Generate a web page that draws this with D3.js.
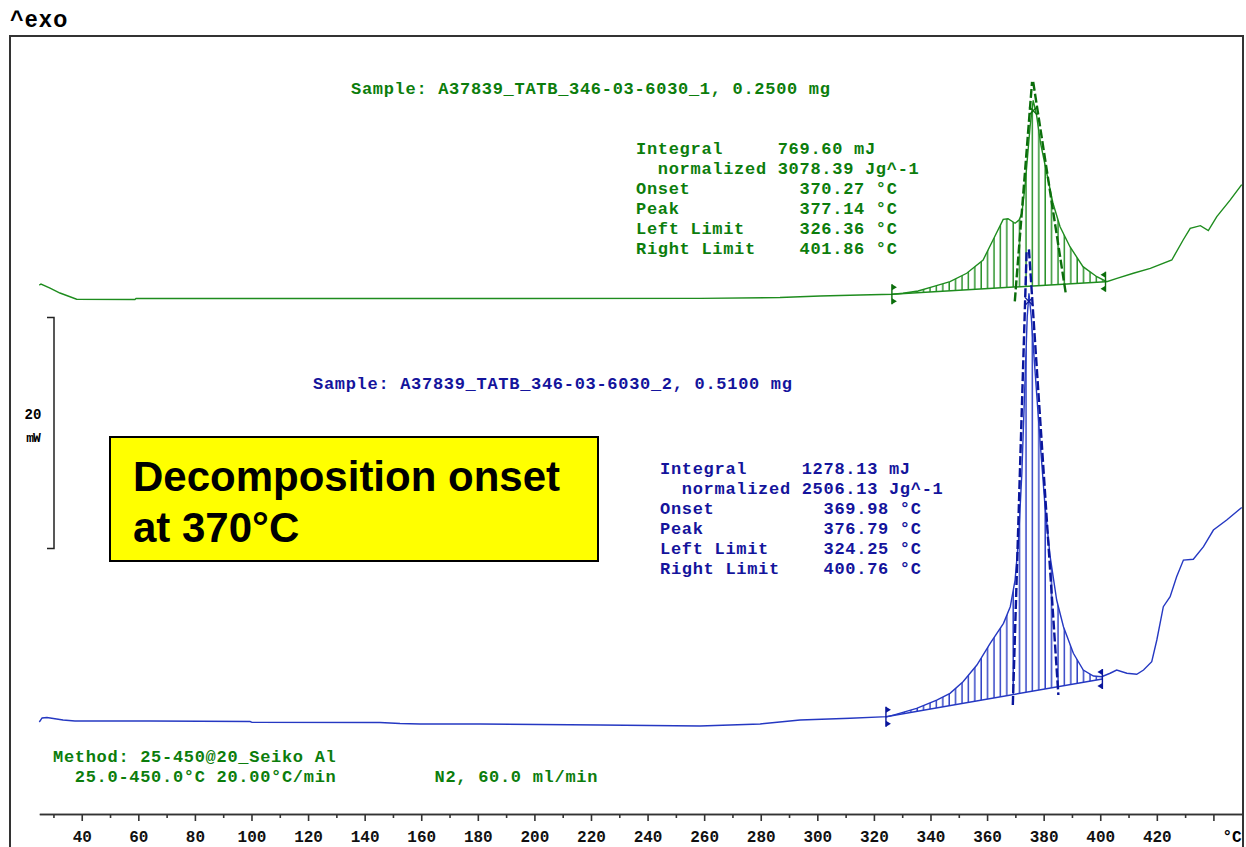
<!DOCTYPE html>
<html lang="en">
<head>
    <meta charset="UTF-8">
    <title>DSC TATB</title>
    <script src="https://d3js.org/d3.v7.min.js"></script>
    <style>
        body { margin: 0; background: #fff; }
        .mono { font-family: "Liberation Mono", "DejaVu Sans Mono", monospace; font-weight: bold; white-space: pre; }
    </style>
</head>
<body>
    <div class="canvas"></div>
    <script>
        const width = 1246
        const height = 847

        // temperature axis (°C)
        const tickLabels = [40, 60, 80, 100, 120, 140, 160, 180, 200, 220, 240, 260, 280, 300, 320, 340, 360, 380, 400, 420]
        const majorTicks = [...tickLabels, 440]
        const minorTicks = [30, 50, 70, 90, 110, 130, 150, 170, 190, 210, 230, 250, 270, 290, 310, 330, 350, 370, 390, 410, 430]

        // sample _1 (green) : [°C, mW shown]
        const greenCurve = [[25.0, 45.71], [25.6, 45.80], [28.8, 45.45], [32.3, 45.02], [38.2, 44.48], [58.8, 44.46], [59.2, 44.55],
            [117.2, 44.55], [187.9, 44.55], [258.5, 44.56], [286.8, 44.63], [301.0, 44.76], [315.1, 44.85], [326.7, 44.91],
            [330.3, 45.0], [335.6, 45.2], [340.9, 45.57], [346.9, 46.0], [352.8, 46.73], [358.6, 47.88], [362.1, 49.61],
            [365.7, 51.40], [367.4, 51.45], [369.9, 51.06], [371.3, 51.34], [372.3, 51.92], [373.4, 54.23], [375.2, 59.42],
            [376.3, 61.7], [377.5, 60.4], [378.9, 58.0], [381.1, 55.39], [383.3, 52.79], [385.8, 50.76], [389.3, 49.03],
            [393.9, 47.30], [398.8, 46.43], [402.3, 46.0], [405.9, 46.29], [411.7, 46.73], [417.7, 47.16], [425.3, 47.88],
            [429.3, 49.61], [431.8, 50.62], [435.4, 50.85], [438.2, 50.42], [441.2, 51.63], [445.9, 53.06], [450.0, 54.4]]
        const greenBase = [[326.36, 44.92], [401.86, 46.0]]
        const greenTangents = [[[369.8, 44.3], [375.9, 63.3]], [[376.3, 63.3], [387.9, 44.85]]]
        const greenPeak = [376.3, 60.8]

        // sample _2 (blue)
        const blueCurve = [[25.0, 7.88], [26.0, 8.23], [27.7, 8.27], [33.4, 8.05], [37.6, 7.97], [64.1, 7.97], [99.5, 7.92],
            [100.2, 7.85], [145.4, 7.84], [152.5, 7.75], [159.6, 7.71], [180.8, 7.71], [223.2, 7.62], [258.5, 7.53],
            [279.8, 7.71], [293.9, 8.05], [311.6, 8.20], [324.8, 8.34], [326.9, 8.48], [335.1, 9.06], [342.2, 9.78],
            [346.9, 10.36], [351.5, 11.37], [356.4, 12.81], [361.1, 14.69], [365.8, 16.42], [368.2, 17.86], [369.9, 20.17],
            [371.1, 23.64], [372.3, 29.44], [373.5, 38.10], [374.2, 43.0], [374.8, 45.0], [375.6, 43.0], [377.0, 38.10],
            [378.7, 32.29], [380.5, 26.52], [382.3, 22.19], [384.6, 18.44], [387.0, 16.13], [390.5, 13.83], [394.0, 12.38],
            [397.6, 11.86], [400.5, 11.80], [403.5, 12.10], [405.8, 12.38], [409.4, 12.10], [412.9, 12.01], [415.3, 12.38],
            [418.2, 13.10], [420.0, 14.98], [422.3, 17.86], [424.7, 18.73], [427.0, 20.46], [429.4, 21.90], [432.9, 21.97],
            [436.5, 23.06], [440.0, 24.50], [444.7, 25.37], [450.0, 26.45]]
        const blueBase = [[324.25, 8.34], [400.76, 11.6]]
        const blueTangents = [[[369.1, 9.35], [374.0, 48.8]], [[374.8, 48.8], [385.2, 10.22]]]
        const bluePeak = [374.8, 44.3]

        const scaleBar = [22.9, 42.9] // 20 mW

        const greenText = {
            title: 'Sample: A37839_TATB_346-03-6030_1, 0.2500 mg',
            table: ['Integral     769.60 mJ', '  normalized 3078.39 Jg^-1', 'Onset          370.27 °C',
                'Peak           377.14 °C', 'Left Limit     326.36 °C', 'Right Limit    401.86 °C']
        }
        const blueText = {
            title: 'Sample: A37839_TATB_346-03-6030_2, 0.5100 mg',
            table: ['Integral     1278.13 mJ', '  normalized 2506.13 Jg^-1', 'Onset          369.98 °C',
                'Peak           376.79 °C', 'Left Limit     324.25 °C', 'Right Limit    400.76 °C']
        }
        const methodLines = ['Method: 25-450@20_Seiko Al', '  25.0-450.0°C 20.00°C/min         N2, 60.0 ml/min']

        const green = '#1e8c1e', greenDark = '#0b6e0b', greenInk = '#0c7d0c'
        const blue = '#2538c2', blueDark = '#0a169c', blueInk = '#14149c'

        const svg = d3.select('.canvas')
                    .append('svg')
                    .attr('width', width)
                    .attr('height', height)

        const x = d3.scaleLinear().domain([25, 450]).range([39.3, 1241.7])
        const y = d3.scaleLinear().domain([0, 20]).range([813, 582])

        // frame
        svg.append('rect')
            .attr('x', 10).attr('y', 36)
            .attr('width', 1233).attr('height', 900)
            .attr('fill', 'none').attr('stroke', '#333').attr('stroke-width', 2)

        svg.append('text')
            .attr('x', 10).attr('y', 27)
            .attr('font-family', 'Liberation Sans, Arial, sans-serif')
            .attr('font-weight', 'bold')
            .attr('font-size', 23).attr('letter-spacing', 1.4)
            .text('^exo')

        // axis
        const axisG = svg.append('g').attr('transform', 'translate(0, 814)')
        axisG.call(d3.axisBottom(x).tickValues(minorTicks).tickSize(4).tickSizeOuter(0).tickFormat(''))
        const majorG = svg.append('g').attr('transform', 'translate(0, 814)')
        majorG.call(d3.axisBottom(x).tickValues(majorTicks).tickSize(7).tickSizeOuter(0)
            .tickFormat(d => tickLabels.includes(d) ? d : ''))
        svg.selectAll('.domain, .tick line').attr('stroke', '#333').attr('stroke-width', 1.6)
        majorG.selectAll('text')
            .attr('class', 'mono')
            .attr('font-size', 16).attr('fill', '#111')
            .attr('y', 17)
        svg.append('text')
            .attr('class', 'mono')
            .attr('x', 1232).attr('y', 842)
            .attr('text-anchor', 'middle').attr('font-size', 16)
            .text('°C')

        // scale bar
        const sb = svg.append('g').attr('stroke', '#222').attr('stroke-width', 1.5).attr('fill', 'none')
        sb.append('path')
            .attr('d', `M47,${y(scaleBar[1])}H54V${y(scaleBar[0])}H47`)
        svg.append('text').attr('class', 'mono').attr('x', 33).attr('y', 419)
            .attr('text-anchor', 'middle').attr('font-size', 14).text('20')
        svg.append('text').attr('class', 'mono').attr('x', 33).attr('y', 442)
            .attr('text-anchor', 'middle').attr('font-size', 13).attr('letter-spacing', -1).text('mW')

        const line = d3.line().x(d => x(d[0])).y(d => y(d[1]))
        const defs = svg.append('defs')

        function drawSample(curve, base, tangents, peak, col, dark, id) {
            const pat = defs.append('pattern')
                .attr('id', id)
                .attr('patternUnits', 'userSpaceOnUse')
                .attr('width', 6.4).attr('height', 20)
            pat.append('line')
                .attr('x1', 2).attr('x2', 2).attr('y1', 0).attr('y2', 20)
                .attr('stroke', col).attr('stroke-width', 1.4)

            // hatched integral area
            const inside = curve.filter(d => d[0] > base[0][0] && d[0] < base[1][0])
            svg.append('path')
                .attr('d', line([base[0], ...inside, base[1]]) + 'Z')
                .attr('fill', `url(#${id})`)
                .attr('stroke', 'none')

            svg.append('path')
                .attr('d', line(base))
                .attr('fill', 'none').attr('stroke', col).attr('stroke-width', 1.5)

            svg.append('path')
                .attr('d', line(curve))
                .attr('fill', 'none').attr('stroke', col).attr('stroke-width', 1.4)

            tangents.forEach(t => {
                svg.append('path')
                    .attr('d', line(t))
                    .attr('fill', 'none').attr('stroke', dark)
                    .attr('stroke-width', 2.4).attr('stroke-dasharray', '9,3')
            })

            // peak mark
            const px = x(peak[0]), py = y(peak[1])
            svg.append('path')
                .attr('d', `M${px - 4},${py - 4}L${px + 4},${py + 4}M${px + 4},${py - 4}L${px - 4},${py + 4}`)
                .attr('stroke', dark).attr('stroke-width', 1.3)

            // limit marks
            base.forEach((b, i) => {
                const bx = x(b[0]), by = y(b[1])
                const dir = i === 0 ? 1 : -1
                svg.append('path')
                    .attr('d', `M${bx},${by - 10}V${by + 10}`)
                    .attr('stroke', dark).attr('stroke-width', 1.4)
                svg.append('path')
                    .attr('d', `M${bx},${by - 10}l${dir * 5},3l${-dir * 5},3Z M${bx},${by + 10}l${dir * 5},-3l${-dir * 5},-3Z`)
                    .attr('fill', dark)
            })
        }

        drawSample(greenCurve, greenBase, greenTangents, greenPeak, green, greenDark, 'hatchG')
        drawSample(blueCurve, blueBase, blueTangents, bluePeak, blue, blueDark, 'hatchB')

        function textBlock(lines, x0, y0, step, col) {
            svg.append('g').selectAll('text')
                .data(lines)
                .enter()
                .append('text')
                .attr('class', 'mono')
                .attr('x', x0)
                .attr('y', (d, i) => y0 + i * step)
                .attr('font-size', 17)
                .attr('letter-spacing', 0.7)
                .attr('fill', col)
                .text(d => d)
        }

        textBlock([greenText.title], 351, 94, 0, greenInk)
        textBlock(greenText.table, 636, 154, 20, greenInk)
        textBlock([blueText.title], 313, 389, 0, blueInk)
        textBlock(blueText.table, 660, 474, 20, blueInk)
        textBlock(methodLines, 53, 762, 20, greenInk)

        // annotation box
        svg.append('rect')
            .attr('x', 110).attr('y', 437)
            .attr('width', 488).attr('height', 124)
            .attr('fill', '#ffff00').attr('stroke', '#000').attr('stroke-width', 2)
        svg.append('g').selectAll('text')
            .data(['Decomposition onset', 'at 370°C'])
            .enter()
            .append('text')
            .attr('x', 133)
            .attr('y', (d, i) => 491 + i * 51)
            .attr('font-family', 'Liberation Sans, Arial, sans-serif')
            .attr('font-weight', 'bold')
            .attr('font-size', 42)
            .text(d => d)
    </script>
</body>
</html>
